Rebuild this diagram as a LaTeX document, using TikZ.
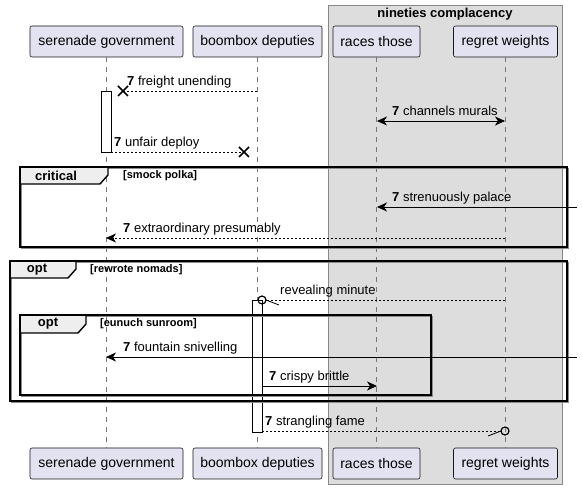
\documentclass[tikz,border=0pt]{standalone}
\usepackage{fontspec}
\setmainfont{Liberation Sans}
\usetikzlibrary{arrows.meta,calc}
\definecolor{partfill}{HTML}{E2E2F0}
\definecolor{partdraw}{HTML}{181818}
\definecolor{grpfill}{HTML}{DDDDDD}
\definecolor{grpdraw}{HTML}{888888}
\definecolor{tabfill}{HTML}{EEEEEE}
\definecolor{lifeline}{HTML}{777777}
\tikzset{
  part/.style={draw=partdraw, fill=partfill, rounded corners=2pt, line width=0.6pt,
    minimum height=31pt, inner xsep=7pt, font=\fontsize{14}{16}\selectfont},
  life/.style={draw=lifeline, dash pattern=on 5pt off 5pt, line width=0.6pt},
  msg/.style={line width=0.8pt},
  ret/.style={line width=0.8pt, dash pattern=on 2pt off 2pt},
  tip/.style={-{Stealth[length=10pt,width=9pt,inset=3pt]}},
  msgl/.style={anchor=base west, inner sep=0pt, font=\fontsize{13}{15}\selectfont},
  actbar/.style={draw=black, fill=white, line width=0.8pt},
  frm/.style={draw=black, line width=1.4pt},
  frmshadow/.style={draw=black!45, line width=1pt},
  tabl/.style={font=\bfseries\fontsize{13}{15}\selectfont, inner sep=0pt},
  condl/.style={anchor=west, font=\bfseries\fontsize{11}{13}\selectfont, inner sep=0pt},
  xmark/.style={line width=1.6pt},
  circmark/.style={line width=1.2pt},
}
\begin{document}
\begin{tikzpicture}[x=1pt,y=-1pt]
\useasboundingbox (0,0) rectangle (582,489);
\fill[white] (0,0) rectangle (582,489);
% group box
\draw[fill=grpfill, draw=grpdraw, line width=0.8pt] (328,5) rectangle (562,484);
\node[font=\bfseries\fontsize{13}{15}\selectfont] (grp) at (445,14.5) {nineties complacency};
% participants
\node[part, minimum width=153pt] (sgT) at (106.5,41.5) {serenade government};
\node[part, minimum width=129pt] (bdT) at (257.5,41.5) {boombox deputies};
\node[part, minimum width=87pt] (rtT) at (376.5,41.5) {races those};
\node[part, minimum width=104pt] (rwT) at (505.5,41.5) {regret weights};
\node[part, minimum width=153pt] (sgB) at (106.5,463.5) {serenade government};
\node[part, minimum width=129pt] (bdB) at (257.5,463.5) {boombox deputies};
\node[part, minimum width=87pt] (rtB) at (376.5,463.5) {races those};
\node[part, minimum width=104pt] (rwB) at (505.5,463.5) {regret weights};
% lifelines
\draw[life] (sgT.south) -- (sgB.north);
\draw[life] (bdT.south) -- (bdB.north);
\draw[life] (rtT.south) -- (rtB.north);
\draw[life] (rwT.south) -- (rwB.north);
% activation bars
\draw[actbar] (101,91) rectangle (111,152);
\draw[actbar] (252,300) rectangle (262,432);
% coordinates
\coordinate (m1a) at (257,91); \coordinate (m1b) at (123,91);
\coordinate (m2a) at (111,152); \coordinate (m2b) at (244,152);
\coordinate (m3a) at (377,121); \coordinate (m3b) at (505,121);
\coordinate (m4a) at (577,207); \coordinate (m4b) at (377,207);
\coordinate (m5a) at (505,238); \coordinate (m5b) at (106,238);
\coordinate (m6a) at (505,300); \coordinate (m6b) at (262,300);
\coordinate (m7a) at (577,357); \coordinate (m7b) at (106,357);
\coordinate (m8a) at (262,386); \coordinate (m8b) at (377,386);
\coordinate (m9a) at (262,431); \coordinate (m9b) at (505,431);
% message 1
\draw[ret] (m1a) -- (m1b);
\draw[xmark] ($(m1b)+(-5,-5)$) -- ($(m1b)+(5,5)$) ($(m1b)+(-5,5)$) -- ($(m1b)+(5,-5)$);
\node[msgl] (l1) at (127,86) {\textbf{7} freight unending};
% message 2
\draw[ret] (m2a) -- (m2b);
\draw[xmark] ($(m2b)+(-5,-5)$) -- ($(m2b)+(5,5)$) ($(m2b)+(-5,5)$) -- ($(m2b)+(5,-5)$);
\node[msgl] (l2) at (114,147) {\textbf{7} unfair deploy};
% message 3
\draw[msg, {Stealth[length=10pt,width=9pt,inset=3pt]}-{Stealth[length=10pt,width=9pt,inset=3pt]}] (m3a) -- (m3b);
\node[msgl] (l3) at (392,116) {\textbf{7} channels murals};
% critical frame
\draw[frmshadow] (21.5,168.5) rectangle (568.5,248.5);
\draw[frm, fill=tabfill] (20,167) -- (108,167) -- (108,175) -- (100,184) -- (20,184) -- cycle;
\draw[frm] (20,167) rectangle (567,247);
\node[tabl] (tc) at (56,176) {critical};
\node[condl] (cc) at (123,176) {[smock polka]};
% message 4
\draw[msg, tip] (m4a) -- (m4b);
\node[msgl] (l4) at (392,202) {\textbf{7} strenuously palace};
% message 5
\draw[ret, tip] (m5a) -- (m5b);
\node[msgl] (l5) at (123,233) {\textbf{7} extraordinary presumably};
% outer opt frame
\draw[frmshadow] (11.5,262.5) rectangle (568.5,402.5);
\draw[frm, fill=tabfill] (10,261) -- (76,261) -- (76,269) -- (68,278) -- (10,278) -- cycle;
\draw[frm] (10,261) rectangle (567,401);
\node[tabl] (to) at (37,270) {opt};
\node[condl] (co) at (90,269.5) {[rewrote nomads]};
% message 6
\draw[ret] (m6a) -- ($(m6b)+(4,0)$);
\draw[circmark] (m6b) circle (4);
\draw[line width=0.8pt] ($(m6b)+(4,0)$) -- ($(m6b)+(17,5)$);
\node[msgl] (l6) at (280,295) {revealing minute};
% inner opt frame
\draw[frmshadow] (21.5,316.5) rectangle (432.5,396.5);
\draw[frm, fill=tabfill] (20,315) -- (86,315) -- (86,324) -- (78,333) -- (20,333) -- cycle;
\draw[frm] (20,315) rectangle (431,395);
\node[tabl] (ti) at (48,324) {opt};
\node[condl] (ci) at (100,323.5) {[eunuch sunroom]};
% message 7
\draw[msg, tip] (m7a) -- (m7b);
\node[msgl] (l7) at (123,352) {\textbf{7} fountain snivelling};
% message 8
\draw[msg, tip] (m8a) -- (m8b);
\node[msgl] (l8) at (269,381) {\textbf{7} crispy brittle};
% message 9
\draw[ret] (m9a) -- ($(m9b)+(-4,0)$);
\draw[circmark] (m9b) circle (4);
\draw[line width=0.8pt] ($(m9b)+(-4,0)$) -- ($(m9b)+(-17,5)$);
\node[msgl] (l9) at (265,426) {\textbf{7} strangling fame};
\end{tikzpicture}
\end{document}
